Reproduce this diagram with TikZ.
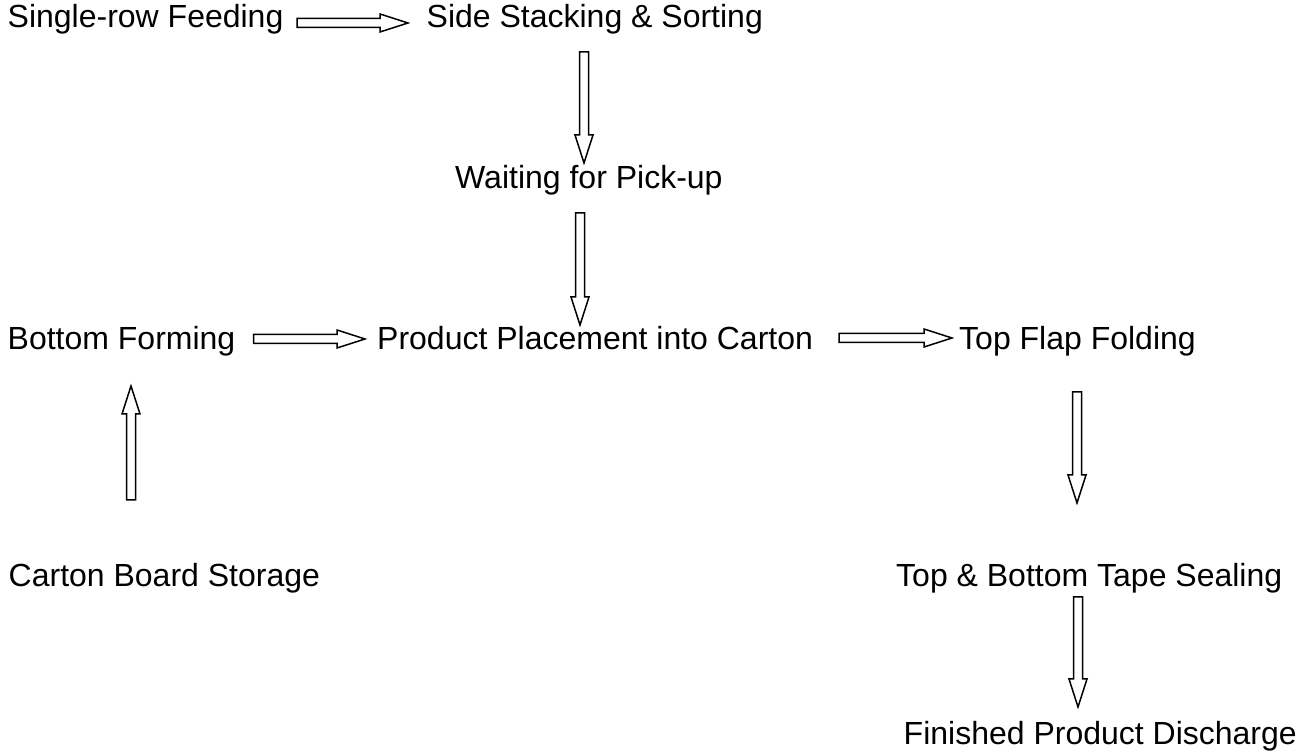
\documentclass[tikz,border=0pt]{standalone}
\usepackage{fontspec}
\setmainfont{Liberation Sans}
\usetikzlibrary{calc}

\begin{document}
\begin{tikzpicture}[x=1pt,y=1pt,
    step label/.style={anchor=base west, inner sep=0pt, font=\fontsize{32}{38}\selectfont},
    hollow arrow/.style={draw, line width=1.5pt, to path={
        coordinate (s0) (\tikztotarget) coordinate (t0)
        ($(t0)!28pt!(s0)$) coordinate (b0)
        ($(s0)!4.5pt!90:(t0)$) -- ($(b0)!4.5pt!-90:(s0)$) -- ($(b0)!9pt!-90:(s0)$)
        -- (t0) -- ($(b0)!9pt!90:(s0)$) -- ($(b0)!4.5pt!90:(s0)$)
        -- ($(s0)!4.5pt!-90:(t0)$) -- cycle}}]
            \useasboundingbox (0,0) rectangle (1304,751);

            \node [step label] (feed) at (7.5,723) {Single-row Feeding};
            \node [step label] (stack) at (426.5,723) {Side Stacking \& Sorting};
            \node [step label] (wait) at (455,562) {Waiting for Pick-up};
            \node [step label] (bottom) at (7.5,401) {Bottom Forming};
            \node [step label] (place) at (377,401) {Product Placement into Carton};
            \node [step label] (topflap) at (959,401) {Top Flap Folding};
            \node [step label] (storage) at (8.5,164) {Carton Board Storage};
            \node [step label] (sealing) at (896,164) {Top \& Bottom Tape Sealing};
            \node [step label] (discharge) at (903.5,6) {Finished Product Discharge};

            \draw [hollow arrow] ([xshift=13.5pt,yshift=5pt]feed.base east) to ([xshift=-18.5pt,yshift=5pt]stack.base west);
            \draw [hollow arrow] ([xshift=157.5pt,yshift=-24pt]stack.base west) coordinate (a2) to ([yshift=26pt]a2 |- wait.base);
            \draw [hollow arrow] ([xshift=125pt,yshift=-24pt]wait.base west) coordinate (a3) to ([yshift=25pt]a3 |- place.base);
            \draw [hollow arrow] ([xshift=18pt,yshift=11pt]bottom.base east) to ([xshift=-12pt,yshift=11pt]place.base west);
            \draw [hollow arrow] ([xshift=26pt,yshift=12pt]place.base east) to ([xshift=-7pt,yshift=12pt]topflap.base west);
            \draw [hollow arrow] ([xshift=122.5pt,yshift=87pt]storage.base west) coordinate (a6) to ([yshift=-36pt]a6 |- bottom.base);
            \draw [hollow arrow] ([xshift=118pt,yshift=-42pt]topflap.base west) coordinate (a7) to ([yshift=84pt]a7 |- sealing.base);
            \draw [hollow arrow] ([xshift=182pt,yshift=-10pt]sealing.base west) coordinate (a8) to ([yshift=38pt]a8 |- discharge.base);
    \end{tikzpicture}
\end{document}
